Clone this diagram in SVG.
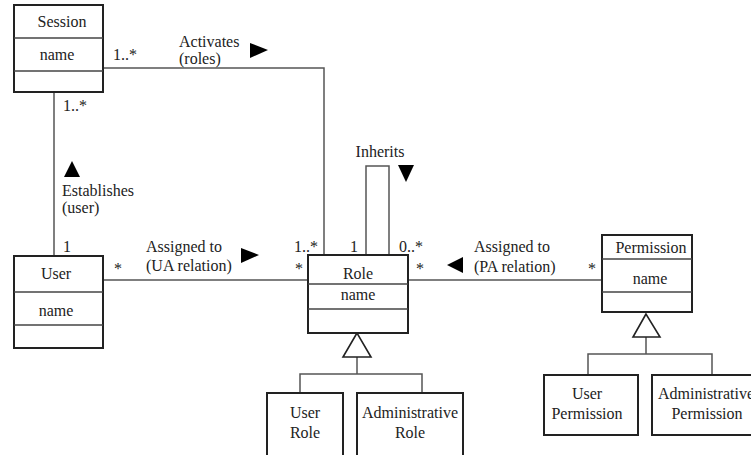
<svg xmlns="http://www.w3.org/2000/svg" width="751" height="455" viewBox="0 0 751 455" font-family="'Liberation Serif', 'Times New Roman', 'DejaVu Serif', serif">
<style>
.box{fill:#fff;stroke:#222;stroke-width:2}
.div{stroke:#444;stroke-width:1.3}
.ln{fill:none;stroke:#555;stroke-width:1.5}
text{font-family:'Liberation Serif','Times New Roman','DejaVu Serif',serif;font-size:16px;fill:#222}
.c{text-anchor:middle}
.tri{fill:#000}
.gen{fill:#fff;stroke:#222;stroke-width:1.6}
</style>
<rect width="751" height="455" fill="#fff"/>
<g id="connectors">
<polyline class="ln" points="103,68 324,68 324,255"/>
<line class="ln" x1="54" y1="92" x2="54" y2="256"/>
<line class="ln" x1="103" y1="280" x2="308" y2="280"/>
<line class="ln" x1="408" y1="280" x2="602" y2="280"/>
<polyline class="ln" points="366,255 366,166 389,166 389,255"/>
<polyline class="ln" points="357,357 357,374"/>
<polyline class="ln" points="300,393 300,374 422,374 422,393"/>
<polyline class="ln" points="646,337 646,354"/>
<polyline class="ln" points="588,375 588,354 712,354 712,375"/>
<polygon class="gen" points="357,333 343,357 371,357"/>
<polygon class="gen" points="646,314 633,337 660,337"/>
<polygon class="tri" points="250,43 250,58 268,50"/>
<polygon class="tri" points="64,177 80,177 72,161"/>
<polygon class="tri" points="241,248 241,263 259,255"/>
<polygon class="tri" points="398,165 414,165 406,182"/>
<polygon class="tri" points="463,257 463,273 447,265"/>
<text x="113" y="60">1..*</text>
<text x="179" y="47">Activates</text>
<text x="179" y="64">(roles)</text>
<text x="63" y="111">1..*</text>
<text x="62" y="196">Establishes</text>
<text x="62" y="213">(user)</text>
<text x="63" y="252">1</text>
<text x="114" y="274">*</text>
<text x="146" y="252">Assigned to</text>
<text x="146" y="271">(UA relation)</text>
<text x="294" y="252">1..*</text>
<text x="295" y="274">*</text>
<text x="350" y="252">1</text>
<text x="380" y="157" class="c">Inherits</text>
<text x="399" y="252">0..*</text>
<text x="416" y="274">*</text>
<text x="474" y="252">Assigned to</text>
<text x="474" y="272">(PA relation)</text>
<text x="588" y="274">*</text>
</g>
<g id="session">
<rect class="box" x="14" y="5" width="89" height="87"/>
<line class="div" x1="14" y1="38" x2="103" y2="38"/>
<line class="div" x1="14" y1="71" x2="103" y2="71"/>
<text x="62" y="27" class="c">Session</text>
<text x="57" y="60" class="c">name</text>
</g>
<g id="user">
<rect class="box" x="14" y="256" width="89" height="92"/>
<line class="div" x1="14" y1="292" x2="103" y2="292"/>
<line class="div" x1="14" y1="325" x2="103" y2="325"/>
<text x="56" y="279" class="c">User</text>
<text x="56" y="316" class="c">name</text>
</g>
<g id="role">
<rect class="box" x="308" y="255" width="100" height="78"/>
<line class="div" x1="308" y1="284" x2="408" y2="284"/>
<line class="div" x1="308" y1="309" x2="408" y2="309"/>
<text x="358" y="279" class="c">Role</text>
<text x="358" y="300" class="c">name</text>
</g>
<g id="permission">
<rect class="box" x="602" y="235" width="90" height="77"/>
<line class="div" x1="602" y1="259" x2="692" y2="259"/>
<line class="div" x1="602" y1="292" x2="692" y2="292"/>
<text x="651" y="253" class="c">Permission</text>
<text x="650" y="284" class="c">name</text>
</g>
<g id="user-role">
<rect class="box" x="267" y="393" width="76" height="70"/>
<text x="305" y="418" class="c">User</text>
<text x="305" y="438" class="c">Role</text>
</g>
<g id="admin-role">
<rect class="box" x="357" y="393" width="106" height="70"/>
<text x="410" y="418" class="c">Administrative</text>
<text x="410" y="438" class="c">Role</text>
</g>
<g id="user-permission">
<rect class="box" x="544" y="375" width="94" height="60"/>
<text x="587" y="399" class="c">User</text>
<text x="587" y="419" class="c">Permission</text>
</g>
<g id="admin-permission">
<rect class="box" x="652" y="375" width="120" height="60"/>
<text x="706" y="399" class="c">Administrative</text>
<text x="707" y="419" class="c">Permission</text>
</g>
</svg>
